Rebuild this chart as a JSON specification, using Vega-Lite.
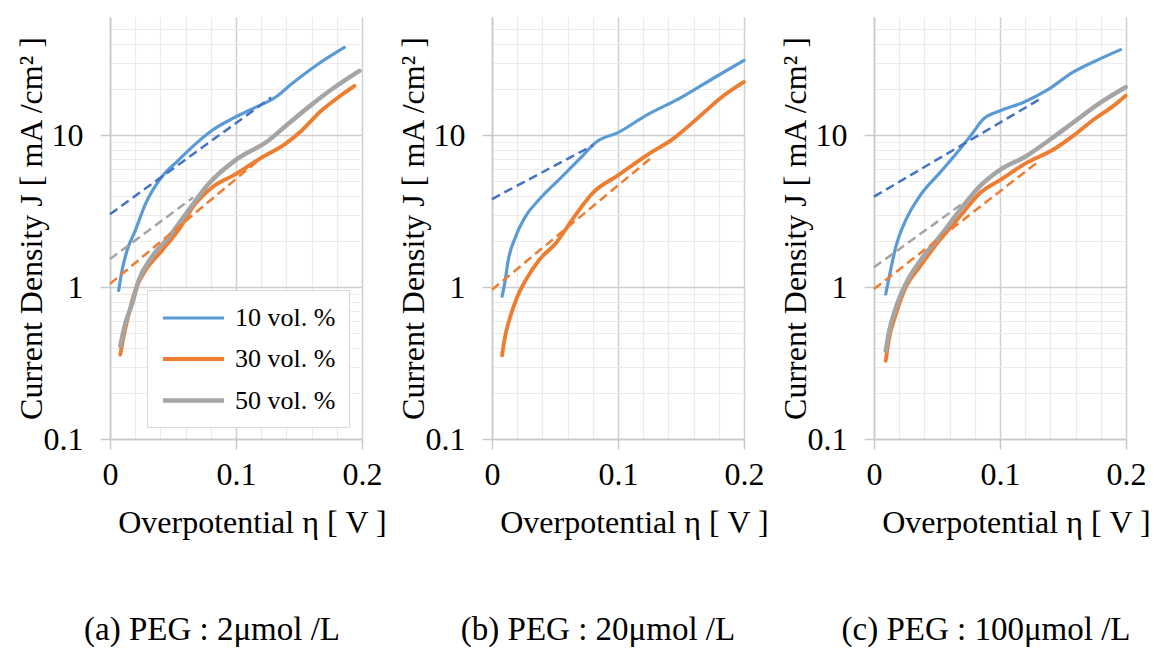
{
  "$schema": "https://vega.github.io/schema/vega-lite/v6.json",
  "background": "white",
  "padding": {"left": 14, "top": 13, "right": 0, "bottom": 0},
  "spacing": 9,
  "config": {
    "font": "Times New Roman, Times, Tinos, Liberation Serif, DejaVu Serif Condensed, DejaVu Serif, serif",
    "view": {"stroke": null},
    "axis": {"labelFont": "Times New Roman, Times, Tinos, Liberation Serif, DejaVu Serif Condensed, DejaVu Serif, serif", "titleFont": "Times New Roman, Times, Tinos, Liberation Serif, DejaVu Serif Condensed, DejaVu Serif, serif"},
    "title": {"font": "Times New Roman, Times, Tinos, Liberation Serif, DejaVu Serif Condensed, DejaVu Serif, serif"},
    "legend": {
      "orient": "none", "legendX": 37, "legendY": 273,
      "fillColor": "white", "strokeColor": "#d9d9d9", "padding": 13,
      "symbolType": "M-2.35,0H2.35", "symbolStrokeWidth": 4.5, "symbolSize": 676, "symbolOffset": 18,
      "labelFont": "Times New Roman, Times, Tinos, Liberation Serif, DejaVu Serif Condensed, DejaVu Serif, serif", "labelFontSize": 26, "labelColor": "#000",
      "labelOffset": 26, "rowPadding": 13, "title": null
    }
  },
  "datasets": {
    "d": [
      {"panel":"a","kind":"meas","series":"10 vol. %","eta":0.0069,"J":0.95},
      {"panel":"a","kind":"meas","series":"10 vol. %","eta":0.0095,"J":1.28},
      {"panel":"a","kind":"meas","series":"10 vol. %","eta":0.0134,"J":1.73},
      {"panel":"a","kind":"meas","series":"10 vol. %","eta":0.020,"J":2.35},
      {"panel":"a","kind":"meas","series":"10 vol. %","eta":0.028,"J":3.5},
      {"panel":"a","kind":"meas","series":"10 vol. %","eta":0.041,"J":5.3},
      {"panel":"a","kind":"meas","series":"10 vol. %","eta":0.054,"J":6.8},
      {"panel":"a","kind":"meas","series":"10 vol. %","eta":0.0675,"J":8.7},
      {"panel":"a","kind":"meas","series":"10 vol. %","eta":0.0806,"J":10.7},
      {"panel":"a","kind":"meas","series":"10 vol. %","eta":0.099,"J":13.1},
      {"panel":"a","kind":"meas","series":"10 vol. %","eta":0.115,"J":15.2},
      {"panel":"a","kind":"meas","series":"10 vol. %","eta":0.131,"J":17.7},
      {"panel":"a","kind":"meas","series":"10 vol. %","eta":0.144,"J":21.7},
      {"panel":"a","kind":"meas","series":"10 vol. %","eta":0.165,"J":29.3},
      {"panel":"a","kind":"meas","series":"10 vol. %","eta":0.186,"J":37.8},
      {"panel":"a","kind":"fit","series":"10 vol. %","eta":0,"J":3.02},
      {"panel":"a","kind":"fit","series":"10 vol. %","eta":0.128,"J":17.7},
      {"panel":"a","kind":"meas","series":"30 vol. %","eta":0.0082,"J":0.36},
      {"panel":"a","kind":"meas","series":"30 vol. %","eta":0.0108,"J":0.47},
      {"panel":"a","kind":"meas","series":"30 vol. %","eta":0.0148,"J":0.66},
      {"panel":"a","kind":"meas","series":"30 vol. %","eta":0.020,"J":0.95},
      {"panel":"a","kind":"meas","series":"30 vol. %","eta":0.028,"J":1.28},
      {"panel":"a","kind":"meas","series":"30 vol. %","eta":0.041,"J":1.73},
      {"panel":"a","kind":"meas","series":"30 vol. %","eta":0.054,"J":2.35},
      {"panel":"a","kind":"meas","series":"30 vol. %","eta":0.0675,"J":3.52},
      {"panel":"a","kind":"meas","series":"30 vol. %","eta":0.081,"J":4.53},
      {"panel":"a","kind":"meas","series":"30 vol. %","eta":0.099,"J":5.5},
      {"panel":"a","kind":"meas","series":"30 vol. %","eta":0.120,"J":7.1},
      {"panel":"a","kind":"meas","series":"30 vol. %","eta":0.1386,"J":8.7},
      {"panel":"a","kind":"meas","series":"30 vol. %","eta":0.152,"J":10.7},
      {"panel":"a","kind":"meas","series":"30 vol. %","eta":0.1676,"J":14.5},
      {"panel":"a","kind":"meas","series":"30 vol. %","eta":0.181,"J":17.7},
      {"panel":"a","kind":"meas","series":"30 vol. %","eta":0.194,"J":21.1},
      {"panel":"a","kind":"fit","series":"30 vol. %","eta":0,"J":1.05},
      {"panel":"a","kind":"fit","series":"30 vol. %","eta":0.1175,"J":6.8},
      {"panel":"a","kind":"meas","series":"50 vol. %","eta":0.0082,"J":0.41},
      {"panel":"a","kind":"meas","series":"50 vol. %","eta":0.012,"J":0.57},
      {"panel":"a","kind":"meas","series":"50 vol. %","eta":0.0174,"J":0.77},
      {"panel":"a","kind":"meas","series":"50 vol. %","eta":0.0227,"J":1.1},
      {"panel":"a","kind":"meas","series":"50 vol. %","eta":0.033,"J":1.57},
      {"panel":"a","kind":"meas","series":"50 vol. %","eta":0.0464,"J":2.12},
      {"panel":"a","kind":"meas","series":"50 vol. %","eta":0.062,"J":3.18},
      {"panel":"a","kind":"meas","series":"50 vol. %","eta":0.078,"J":4.76},
      {"panel":"a","kind":"meas","series":"50 vol. %","eta":0.099,"J":6.8},
      {"panel":"a","kind":"meas","series":"50 vol. %","eta":0.1255,"J":9.2},
      {"panel":"a","kind":"meas","series":"50 vol. %","eta":0.141,"J":11.8},
      {"panel":"a","kind":"meas","series":"50 vol. %","eta":0.16,"J":15.9},
      {"panel":"a","kind":"meas","series":"50 vol. %","eta":0.178,"J":20.6},
      {"panel":"a","kind":"meas","series":"50 vol. %","eta":0.198,"J":26.5},
      {"panel":"a","kind":"fit","series":"50 vol. %","eta":0,"J":1.53},
      {"panel":"a","kind":"fit","series":"50 vol. %","eta":0.066,"J":3.89},

      {"panel":"b","kind":"meas","series":"10 vol. %","eta":0.008,"J":0.87},
      {"panel":"b","kind":"meas","series":"10 vol. %","eta":0.0106,"J":1.12},
      {"panel":"b","kind":"meas","series":"10 vol. %","eta":0.0125,"J":1.44},
      {"panel":"b","kind":"meas","series":"10 vol. %","eta":0.019,"J":2.17},
      {"panel":"b","kind":"meas","series":"10 vol. %","eta":0.027,"J":2.95},
      {"panel":"b","kind":"meas","series":"10 vol. %","eta":0.0378,"J":3.8},
      {"panel":"b","kind":"meas","series":"10 vol. %","eta":0.0538,"J":5.16},
      {"panel":"b","kind":"meas","series":"10 vol. %","eta":0.0697,"J":7.0},
      {"panel":"b","kind":"meas","series":"10 vol. %","eta":0.083,"J":9.06},
      {"panel":"b","kind":"meas","series":"10 vol. %","eta":0.1,"J":10.4},
      {"panel":"b","kind":"meas","series":"10 vol. %","eta":0.123,"J":13.6},
      {"panel":"b","kind":"meas","series":"10 vol. %","eta":0.1496,"J":17.6},
      {"panel":"b","kind":"meas","series":"10 vol. %","eta":0.176,"J":23.8},
      {"panel":"b","kind":"meas","series":"10 vol. %","eta":0.2,"J":31.1},
      {"panel":"b","kind":"fit","series":"10 vol. %","eta":0,"J":3.8},
      {"panel":"b","kind":"fit","series":"10 vol. %","eta":0.0804,"J":8.6},
      {"panel":"b","kind":"meas","series":"30 vol. %","eta":0.008,"J":0.355},
      {"panel":"b","kind":"meas","series":"30 vol. %","eta":0.0098,"J":0.446},
      {"panel":"b","kind":"meas","series":"30 vol. %","eta":0.0138,"J":0.61},
      {"panel":"b","kind":"meas","series":"30 vol. %","eta":0.019,"J":0.82},
      {"panel":"b","kind":"meas","series":"30 vol. %","eta":0.027,"J":1.12},
      {"panel":"b","kind":"meas","series":"30 vol. %","eta":0.0378,"J":1.52},
      {"panel":"b","kind":"meas","series":"30 vol. %","eta":0.051,"J":1.96},
      {"panel":"b","kind":"meas","series":"30 vol. %","eta":0.064,"J":2.8},
      {"panel":"b","kind":"meas","series":"30 vol. %","eta":0.0804,"J":4.2},
      {"panel":"b","kind":"meas","series":"30 vol. %","eta":0.1,"J":5.44},
      {"panel":"b","kind":"meas","series":"30 vol. %","eta":0.123,"J":7.4},
      {"panel":"b","kind":"meas","series":"30 vol. %","eta":0.144,"J":9.5},
      {"panel":"b","kind":"meas","series":"30 vol. %","eta":0.163,"J":12.9},
      {"panel":"b","kind":"meas","series":"30 vol. %","eta":0.1815,"J":17.6},
      {"panel":"b","kind":"meas","series":"30 vol. %","eta":0.2,"J":22.4},
      {"panel":"b","kind":"fit","series":"30 vol. %","eta":0,"J":0.96},
      {"panel":"b","kind":"fit","series":"30 vol. %","eta":0.1256,"J":7.0},

      {"panel":"c","kind":"meas","series":"10 vol. %","eta":0.0093,"J":0.9},
      {"panel":"c","kind":"meas","series":"10 vol. %","eta":0.012,"J":1.16},
      {"panel":"c","kind":"meas","series":"10 vol. %","eta":0.0173,"J":1.84},
      {"panel":"c","kind":"meas","series":"10 vol. %","eta":0.0252,"J":2.76},
      {"panel":"c","kind":"meas","series":"10 vol. %","eta":0.036,"J":3.94},
      {"panel":"c","kind":"meas","series":"10 vol. %","eta":0.052,"J":5.63},
      {"panel":"c","kind":"meas","series":"10 vol. %","eta":0.068,"J":8.05},
      {"panel":"c","kind":"meas","series":"10 vol. %","eta":0.0785,"J":10.4},
      {"panel":"c","kind":"meas","series":"10 vol. %","eta":0.0865,"J":12.7},
      {"panel":"c","kind":"meas","series":"10 vol. %","eta":0.1003,"J":14.5},
      {"panel":"c","kind":"meas","series":"10 vol. %","eta":0.1184,"J":16.4},
      {"panel":"c","kind":"meas","series":"10 vol. %","eta":0.137,"J":19.7},
      {"panel":"c","kind":"meas","series":"10 vol. %","eta":0.158,"J":26},
      {"panel":"c","kind":"meas","series":"10 vol. %","eta":0.1797,"J":31.9},
      {"panel":"c","kind":"meas","series":"10 vol. %","eta":0.1957,"J":36.6},
      {"panel":"c","kind":"fit","series":"10 vol. %","eta":0,"J":3.94},
      {"panel":"c","kind":"fit","series":"10 vol. %","eta":0.1318,"J":17.3},
      {"panel":"c","kind":"meas","series":"30 vol. %","eta":0.0093,"J":0.327},
      {"panel":"c","kind":"meas","series":"30 vol. %","eta":0.012,"J":0.46},
      {"panel":"c","kind":"meas","series":"30 vol. %","eta":0.0173,"J":0.66},
      {"panel":"c","kind":"meas","series":"30 vol. %","eta":0.0252,"J":1.0},
      {"panel":"c","kind":"meas","series":"30 vol. %","eta":0.036,"J":1.35},
      {"panel":"c","kind":"meas","series":"30 vol. %","eta":0.052,"J":2.03},
      {"panel":"c","kind":"meas","series":"30 vol. %","eta":0.068,"J":2.9},
      {"panel":"c","kind":"meas","series":"30 vol. %","eta":0.0839,"J":4.15},
      {"panel":"c","kind":"meas","series":"30 vol. %","eta":0.1003,"J":5.08},
      {"panel":"c","kind":"meas","series":"30 vol. %","eta":0.121,"J":6.57},
      {"panel":"c","kind":"meas","series":"30 vol. %","eta":0.1424,"J":8.05},
      {"panel":"c","kind":"meas","series":"30 vol. %","eta":0.158,"J":9.9},
      {"panel":"c","kind":"meas","series":"30 vol. %","eta":0.1744,"J":12.7},
      {"panel":"c","kind":"meas","series":"30 vol. %","eta":0.19,"J":15.6},
      {"panel":"c","kind":"meas","series":"30 vol. %","eta":0.1997,"J":18.2},
      {"panel":"c","kind":"fit","series":"30 vol. %","eta":0,"J":0.97},
      {"panel":"c","kind":"fit","series":"30 vol. %","eta":0.129,"J":6.57},
      {"panel":"c","kind":"meas","series":"50 vol. %","eta":0.0093,"J":0.38},
      {"panel":"c","kind":"meas","series":"50 vol. %","eta":0.012,"J":0.51},
      {"panel":"c","kind":"meas","series":"50 vol. %","eta":0.0173,"J":0.73},
      {"panel":"c","kind":"meas","series":"50 vol. %","eta":0.0252,"J":1.05},
      {"panel":"c","kind":"meas","series":"50 vol. %","eta":0.0386,"J":1.57},
      {"panel":"c","kind":"meas","series":"50 vol. %","eta":0.052,"J":2.14},
      {"panel":"c","kind":"meas","series":"50 vol. %","eta":0.068,"J":3.2},
      {"panel":"c","kind":"meas","series":"50 vol. %","eta":0.0839,"J":4.6},
      {"panel":"c","kind":"meas","series":"50 vol. %","eta":0.1003,"J":5.93},
      {"panel":"c","kind":"meas","series":"50 vol. %","eta":0.121,"J":7.3},
      {"panel":"c","kind":"meas","series":"50 vol. %","eta":0.14,"J":9.4},
      {"panel":"c","kind":"meas","series":"50 vol. %","eta":0.158,"J":12.1},
      {"panel":"c","kind":"meas","series":"50 vol. %","eta":0.1797,"J":16.4},
      {"panel":"c","kind":"meas","series":"50 vol. %","eta":0.1997,"J":20.7},
      {"panel":"c","kind":"fit","series":"50 vol. %","eta":0,"J":1.35},
      {"panel":"c","kind":"fit","series":"50 vol. %","eta":0.0705,"J":3.56}
    ]
  },
  "hconcat": [
    {
      "width": 252, "height": 422,
      "title": {"text": "(a) PEG : 2μmol /L", "orient": "bottom", "anchor": "middle", "frame": "group", "dx": -24, "offset": 76, "fontSize": 33, "fontWeight": "normal", "color": "#000"},
      "data": {"name": "d"},
      "transform": [{"filter": "datum.panel == 'a'"}],
      "encoding": {
        "x": {"field": "eta", "type": "quantitative", "scale": {"domain": [0, 0.2], "nice": false, "zero": false},
          "axis": {"title": "Overpotential η [ V ]", "titleFontSize": 32, "titleFontWeight": "normal", "titleColor": "#000", "titleX": 142, "titleY": 93, "titleAlign": "center", "titleBaseline": "alphabetic", "titleAngle": 0,
            "values": [0, 0.02, 0.04, 0.06, 0.08, 0.1, 0.12, 0.14, 0.16, 0.18, 0.2],
            "labelExpr": "datum.value == 0 ? '0' : datum.value == 0.1 ? '0.1' : datum.value == 0.2 ? '0.2' : ''",
            "labelFontSize": 32, "labelColor": "#000", "labelBaseline": "alphabetic", "labelPadding": 35, "labelFlush": false, "labelOverlap": false,
            "tickSize": 10, "tickColor": "#c8c8c8", "tickWidth": 1.5,
            "tickOpacity": {"condition": {"test": "datum.value == 0 || datum.value == 0.1 || datum.value == 0.2", "value": 1}, "value": 0},
            "grid": true,
            "gridColor": {"condition": {"test": "datum.value == 0 || datum.value == 0.1 || datum.value == 0.2", "value": "#cfcfcf"}, "value": "#ebebeb"},
            "gridWidth": {"condition": {"test": "datum.value == 0 || datum.value == 0.1 || datum.value == 0.2", "value": 1.5}, "value": 1.2},
            "domainColor": "#c8c8c8", "domainWidth": 1.5}},
        "y": {"field": "J", "type": "quantitative", "scale": {"type": "log", "domain": [0.1, 60], "nice": false},
          "axis": {"title": "Current Density J [ mA /cm² ]", "titleFontSize": 32, "titleFontWeight": "normal", "titleColor": "#000", "titleX": -79, "titleY": 211, "titleAngle": -90, "titleAlign": "center", "titleBaseline": "middle",
            "values": [0.1, 0.2, 0.3, 0.4, 0.5, 0.6, 0.7, 0.8, 0.9, 1, 2, 3, 4, 5, 6, 7, 8, 9, 10, 20, 30, 40, 50],
            "labelExpr": "datum.value == 0.1 ? '0.1' : datum.value == 1 ? '1' : datum.value == 10 ? '10' : ''",
            "labelFontSize": 32, "labelColor": "#000", "labelPadding": 17, "labelOverlap": false,
            "tickSize": 10, "tickColor": "#c8c8c8", "tickWidth": 1.5,
            "tickOpacity": {"condition": {"test": "datum.value == 0.1 || datum.value == 1 || datum.value == 10", "value": 1}, "value": 0},
            "grid": true,
            "gridColor": {"condition": {"test": "datum.value == 0.1 || datum.value == 1 || datum.value == 10", "value": "#cfcfcf"}, "value": "#ebebeb"},
            "gridWidth": {"condition": {"test": "datum.value == 0.1 || datum.value == 1 || datum.value == 10", "value": 1.5}, "value": 1.2},
            "domainColor": "#c8c8c8", "domainWidth": 1.5}}
      },
      "layer": [
        {"transform": [{"filter": "datum.kind == 'meas'"}],
         "mark": {"type": "line", "interpolate": "monotone", "strokeCap": "round", "strokeJoin": "round"},
         "encoding": {
           "stroke": {"field": "series", "type": "nominal", "scale": {"domain": ["10 vol. %", "30 vol. %", "50 vol. %"], "range": ["#5B9BD5", "#ED7D31", "#A5A5A5"]}, "legend": {"title": null}},
           "strokeWidth": {"field": "series", "type": "nominal", "scale": {"domain": ["10 vol. %", "30 vol. %", "50 vol. %"], "range": [3.2, 4.5, 5]}, "legend": null}}},
        {"transform": [{"filter": "datum.kind == 'fit'"}],
         "mark": {"type": "line", "strokeDash": [9, 5], "strokeWidth": 2.5},
         "encoding": {
           "color": {"field": "series", "type": "nominal", "scale": {"domain": ["10 vol. %", "30 vol. %", "50 vol. %"], "range": ["#4472C4", "#ED7D31", "#A5A5A5"]}, "legend": null}}}
      ]
    },
    {
      "width": 252, "height": 422,
      "title": {"text": "(b) PEG : 20μmol /L", "orient": "bottom", "anchor": "middle", "frame": "group", "dx": -20, "offset": 76, "fontSize": 33, "fontWeight": "normal", "color": "#000"},
      "data": {"name": "d"},
      "transform": [{"filter": "datum.panel == 'b'"}],
      "encoding": {
        "x": {"field": "eta", "type": "quantitative", "scale": {"domain": [0, 0.2], "nice": false, "zero": false},
          "axis": {"title": "Overpotential η [ V ]", "titleFontSize": 32, "titleFontWeight": "normal", "titleColor": "#000", "titleX": 142, "titleY": 93, "titleAlign": "center", "titleBaseline": "alphabetic", "titleAngle": 0,
            "values": [0, 0.02, 0.04, 0.06, 0.08, 0.1, 0.12, 0.14, 0.16, 0.18, 0.2],
            "labelExpr": "datum.value == 0 ? '0' : datum.value == 0.1 ? '0.1' : datum.value == 0.2 ? '0.2' : ''",
            "labelFontSize": 32, "labelColor": "#000", "labelBaseline": "alphabetic", "labelPadding": 35, "labelFlush": false, "labelOverlap": false,
            "tickSize": 10, "tickColor": "#c8c8c8", "tickWidth": 1.5,
            "tickOpacity": {"condition": {"test": "datum.value == 0 || datum.value == 0.1 || datum.value == 0.2", "value": 1}, "value": 0},
            "grid": true,
            "gridColor": {"condition": {"test": "datum.value == 0 || datum.value == 0.1 || datum.value == 0.2", "value": "#cfcfcf"}, "value": "#ebebeb"},
            "gridWidth": {"condition": {"test": "datum.value == 0 || datum.value == 0.1 || datum.value == 0.2", "value": 1.5}, "value": 1.2},
            "domainColor": "#c8c8c8", "domainWidth": 1.5}},
        "y": {"field": "J", "type": "quantitative", "scale": {"type": "log", "domain": [0.1, 60], "nice": false},
          "axis": {"title": "Current Density J [ mA /cm² ]", "titleFontSize": 32, "titleFontWeight": "normal", "titleColor": "#000", "titleX": -79, "titleY": 211, "titleAngle": -90, "titleAlign": "center", "titleBaseline": "middle",
            "values": [0.1, 0.2, 0.3, 0.4, 0.5, 0.6, 0.7, 0.8, 0.9, 1, 2, 3, 4, 5, 6, 7, 8, 9, 10, 20, 30, 40, 50],
            "labelExpr": "datum.value == 0.1 ? '0.1' : datum.value == 1 ? '1' : datum.value == 10 ? '10' : ''",
            "labelFontSize": 32, "labelColor": "#000", "labelPadding": 17, "labelOverlap": false,
            "tickSize": 10, "tickColor": "#c8c8c8", "tickWidth": 1.5,
            "tickOpacity": {"condition": {"test": "datum.value == 0.1 || datum.value == 1 || datum.value == 10", "value": 1}, "value": 0},
            "grid": true,
            "gridColor": {"condition": {"test": "datum.value == 0.1 || datum.value == 1 || datum.value == 10", "value": "#cfcfcf"}, "value": "#ebebeb"},
            "gridWidth": {"condition": {"test": "datum.value == 0.1 || datum.value == 1 || datum.value == 10", "value": 1.5}, "value": 1.2},
            "domainColor": "#c8c8c8", "domainWidth": 1.5}}
      },
      "layer": [
        {"transform": [{"filter": "datum.kind == 'meas'"}],
         "mark": {"type": "line", "interpolate": "monotone", "strokeCap": "round", "strokeJoin": "round"},
         "encoding": {
           "stroke": {"field": "series", "type": "nominal", "scale": {"domain": ["10 vol. %", "30 vol. %", "50 vol. %"], "range": ["#5B9BD5", "#ED7D31", "#A5A5A5"]}, "legend": {"title": null}},
           "strokeWidth": {"field": "series", "type": "nominal", "scale": {"domain": ["10 vol. %", "30 vol. %", "50 vol. %"], "range": [3.2, 4.5, 5]}, "legend": null}}},
        {"transform": [{"filter": "datum.kind == 'fit'"}],
         "mark": {"type": "line", "strokeDash": [9, 5], "strokeWidth": 2.5},
         "encoding": {
           "color": {"field": "series", "type": "nominal", "scale": {"domain": ["10 vol. %", "30 vol. %", "50 vol. %"], "range": ["#4472C4", "#ED7D31", "#A5A5A5"]}, "legend": null}}}
      ]
    },
    {
      "width": 252, "height": 422,
      "title": {"text": "(c) PEG : 100μmol /L", "orient": "bottom", "anchor": "middle", "frame": "group", "dx": -14, "offset": 76, "fontSize": 33, "fontWeight": "normal", "color": "#000"},
      "data": {"name": "d"},
      "transform": [{"filter": "datum.panel == 'c'"}],
      "encoding": {
        "x": {"field": "eta", "type": "quantitative", "scale": {"domain": [0, 0.2], "nice": false, "zero": false},
          "axis": {"title": "Overpotential η [ V ]", "titleFontSize": 32, "titleFontWeight": "normal", "titleColor": "#000", "titleX": 142, "titleY": 93, "titleAlign": "center", "titleBaseline": "alphabetic", "titleAngle": 0,
            "values": [0, 0.02, 0.04, 0.06, 0.08, 0.1, 0.12, 0.14, 0.16, 0.18, 0.2],
            "labelExpr": "datum.value == 0 ? '0' : datum.value == 0.1 ? '0.1' : datum.value == 0.2 ? '0.2' : ''",
            "labelFontSize": 32, "labelColor": "#000", "labelBaseline": "alphabetic", "labelPadding": 35, "labelFlush": false, "labelOverlap": false,
            "tickSize": 10, "tickColor": "#c8c8c8", "tickWidth": 1.5,
            "tickOpacity": {"condition": {"test": "datum.value == 0 || datum.value == 0.1 || datum.value == 0.2", "value": 1}, "value": 0},
            "grid": true,
            "gridColor": {"condition": {"test": "datum.value == 0 || datum.value == 0.1 || datum.value == 0.2", "value": "#cfcfcf"}, "value": "#ebebeb"},
            "gridWidth": {"condition": {"test": "datum.value == 0 || datum.value == 0.1 || datum.value == 0.2", "value": 1.5}, "value": 1.2},
            "domainColor": "#c8c8c8", "domainWidth": 1.5}},
        "y": {"field": "J", "type": "quantitative", "scale": {"type": "log", "domain": [0.1, 60], "nice": false},
          "axis": {"title": "Current Density J [ mA /cm² ]", "titleFontSize": 32, "titleFontWeight": "normal", "titleColor": "#000", "titleX": -79, "titleY": 211, "titleAngle": -90, "titleAlign": "center", "titleBaseline": "middle",
            "values": [0.1, 0.2, 0.3, 0.4, 0.5, 0.6, 0.7, 0.8, 0.9, 1, 2, 3, 4, 5, 6, 7, 8, 9, 10, 20, 30, 40, 50],
            "labelExpr": "datum.value == 0.1 ? '0.1' : datum.value == 1 ? '1' : datum.value == 10 ? '10' : ''",
            "labelFontSize": 32, "labelColor": "#000", "labelPadding": 17, "labelOverlap": false,
            "tickSize": 10, "tickColor": "#c8c8c8", "tickWidth": 1.5,
            "tickOpacity": {"condition": {"test": "datum.value == 0.1 || datum.value == 1 || datum.value == 10", "value": 1}, "value": 0},
            "grid": true,
            "gridColor": {"condition": {"test": "datum.value == 0.1 || datum.value == 1 || datum.value == 10", "value": "#cfcfcf"}, "value": "#ebebeb"},
            "gridWidth": {"condition": {"test": "datum.value == 0.1 || datum.value == 1 || datum.value == 10", "value": 1.5}, "value": 1.2},
            "domainColor": "#c8c8c8", "domainWidth": 1.5}}
      },
      "layer": [
        {"transform": [{"filter": "datum.kind == 'meas'"}],
         "mark": {"type": "line", "interpolate": "monotone", "strokeCap": "round", "strokeJoin": "round"},
         "encoding": {
           "stroke": {"field": "series", "type": "nominal", "scale": {"domain": ["10 vol. %", "30 vol. %", "50 vol. %"], "range": ["#5B9BD5", "#ED7D31", "#A5A5A5"]}, "legend": {"title": null}},
           "strokeWidth": {"field": "series", "type": "nominal", "scale": {"domain": ["10 vol. %", "30 vol. %", "50 vol. %"], "range": [3.2, 4.5, 5]}, "legend": null}}},
        {"transform": [{"filter": "datum.kind == 'fit'"}],
         "mark": {"type": "line", "strokeDash": [9, 5], "strokeWidth": 2.5},
         "encoding": {
           "color": {"field": "series", "type": "nominal", "scale": {"domain": ["10 vol. %", "30 vol. %", "50 vol. %"], "range": ["#4472C4", "#ED7D31", "#A5A5A5"]}, "legend": null}}}
      ]
    }
  ]
}
